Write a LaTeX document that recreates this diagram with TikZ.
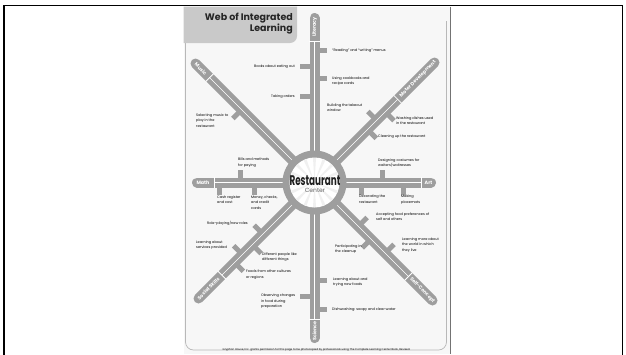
\documentclass[tikz,border=0pt]{standalone}
\usepackage{fontspec}
\setmainfont{Poppins}
\usetikzlibrary{calc}
\definecolor{bargray}{HTML}{9E9E9E}
\definecolor{titlegray}{HTML}{C9C9C9}
\definecolor{pagebg}{HTML}{F7F7F7}
\begin{document}
\begin{tikzpicture}[x=1pt,y=-1pt,
  bar/.style={line width=10pt, draw=bargray, line cap=round},
  stub/.style={line width=5pt, draw=bargray},
  cline/.style={line width=0.6pt, draw=white},
  sepline/.style={line width=0.8pt, draw=white},
  lab/.style={font=\fontsize{3.5}{5.4}\selectfont, inner sep=0pt, align=left, anchor=north west},
  labr/.style={lab, align=right, anchor=north east},
  tab/.style={font=\fontsize{4.8}{5}\selectfont\bfseries, text=white, inner sep=0pt},
]
\useasboundingbox (0,0) rectangle (626,354);
% page
\fill[pagebg] (183.5,6.5) rectangle (450.5,354);
\draw[black!55, line width=1pt] (450.5,6.5) -- (450.5,354);
\draw[black!28, line width=0.7pt, rounded corners=8pt] (185.5,43) -- (185.5,350) -- (446.5,350) -- (446.5,21);
\fill[titlegray] (183.5,6.5) -- (297,6.5) [rounded corners=7pt] -- (297,43) [sharp corners] -- (183.5,43) -- cycle;
\node[anchor=north east, align=right, font=\fontsize{9.5}{11.5}\selectfont\bfseries, text=black!85, inner sep=0pt] (title) at (293,12.5) {Web of Integrated\\Learning};
\draw[line width=1.6pt] (4,5.5) rectangle (622.5,362);

% coordinates
\coordinate (C) at (314.5,182.5);
\coordinate (eLit) at (314.5,18);
\coordinate (eSci) at (314.5,338);
\coordinate (eMath) at (197,182.5);
\coordinate (eArt) at (431,182.5);
\coordinate (eMus) at (195.5,63.5);
\coordinate (eMot) at (434.5,62.5);
\coordinate (eSoc) at (198.5,298.5);
\coordinate (eSelf) at (432.5,300.5);
\coordinate (sLit) at (314.5,41);
\coordinate (sSci) at (314.5,319);
\coordinate (sMath) at (214,182.5);
\coordinate (sArt) at (421,182.5);
\coordinate (sMus) at (209.6,77.6);
\coordinate (sMot) at (397.7,99.3);
\coordinate (sSoc) at (221.9,275.1);
\coordinate (sSelf) at (408.5,276.5);

% stubs
\draw[stub] (314.5,50) -- (327,50);
\draw[stub] (314.5,66) -- (300,66);
\draw[stub] (314.5,78) -- (327,78);
\draw[stub] (314.5,96) -- (300,96);
\draw[stub] (314.5,280) -- (327,280);
\draw[stub] (314.5,296) -- (300,296);
\draw[stub] (314.5,309) -- (327,309);
\draw[stub] (240,182.5) -- (240,170);
\draw[stub] (219,182.5) -- (219,195);
\draw[stub] (254,182.5) -- (254,195);
\draw[stub] (382,182.5) -- (382,170);
\draw[stub] (361,182.5) -- (361,195);
\draw[stub] (403,182.5) -- (403,195);
\draw[stub] (376.7,120.3) -- (367.9,111.5);
\draw[stub] (385.2,111.8) -- (394.0,120.6);
\draw[stub] (367.5,129.5) -- (376.3,138.3);
\draw[stub] (241.7,109.7) -- (232.9,118.5);
\draw[stub] (262.9,234.1) -- (254.1,225.3);
\draw[stub] (242.4,254.6) -- (233.6,245.8);
\draw[stub] (252.3,244.7) -- (261.1,253.5);
\draw[stub] (234.6,262.4) -- (243.4,271.2);
\draw[stub] (358.3,226.3) -- (367.1,217.5);
\draw[stub] (371.1,239.1) -- (362.3,247.9);
\draw[stub] (385.2,253.2) -- (394.0,244.4);

% bars
\foreach \e in {eLit,eSci,eMath,eArt,eMus,eMot,eSoc,eSelf} \draw[bar] (C) -- (\e);
\foreach \s in {sLit,sSci,sMath,sArt,sMus,sMot,sSoc,sSelf} \draw[cline] (\s) -- (C);
\draw[sepline] ($(sLit)+(-5.5,0)$) -- ($(sLit)+(5.5,0)$);
\draw[sepline] ($(sSci)+(-5.5,0)$) -- ($(sSci)+(5.5,0)$);
\draw[sepline] ($(sMath)+(0,-5.5)$) -- ($(sMath)+(0,5.5)$);
\draw[sepline] ($(sArt)+(0,-5.5)$) -- ($(sArt)+(0,5.5)$);
\draw[sepline] ($(sMus)+(3.9,-3.9)$) -- ($(sMus)+(-3.9,3.9)$);
\draw[sepline] ($(sMot)+(3.9,3.9)$) -- ($(sMot)+(-3.9,-3.9)$);
\draw[sepline] ($(sSoc)+(3.9,3.9)$) -- ($(sSoc)+(-3.9,-3.9)$);
\draw[sepline] ($(sSelf)+(3.9,-3.9)$) -- ($(sSelf)+(-3.9,3.9)$);

% ring
\fill[bargray] (C) circle[radius=32];
\fill[white] (C) circle[radius=25];
\foreach \a in {0,22.5,...,337.5} \fill[black!6] (C) -- +(\a-3.5:24.5) -- +(\a+3.5:24.5) -- cycle;
\node[inner sep=0pt, text=black!88] (rest) at (315,180.5) {\scalebox{0.63}[1]{\fontsize{14}{14}\selectfont\bfseries Restaurant}};
\node[inner sep=0pt, text=black!60, font=\fontsize{6}{6}\selectfont] (cent) at (315,190.5) {Center};

% tab labels
\node[tab, rotate=90] (lLit) at (314.5,27) {Literacy};
\node[tab, rotate=90] (lSci) at (314.5,331) {Science};
\node[tab] (lMath) at (203,182.5) {Math};
\node[tab] (lArt) at (428.5,182.5) {Art};
\node[tab, rotate=-45] (lMus) at (200.8,68.8) {Music};
\node[tab, rotate=45] (lMot) at (417.9,79.1) {Motor Development};
\node[tab, rotate=45] (lSoc) at (208.4,288.6) {Social Skills};
\node[tab, rotate=-45] (lSelf) at (422.3,290.3) {Self-Concept};

% texts
\node[lab] (t1) at (332,48.5) {“Reading” and “writing” menus};
\node[labr] (t2) at (295,64.5) {Books about eating out};
\node[lab] (t3) at (332,76.5) {Using cookbooks and\\recipe cards};
\node[labr] (t4) at (295,94.5) {Taking orders};
\node[lab] (t5) at (327,103.5) {Building the takeout\\window};
\node[lab] (t6) at (396,116.5) {Washing dishes used\\in the restaurant};
\node[lab] (t7) at (378,134.5) {Cleaning up the restaurant};
\node[lab] (t8) at (196,113.5) {Selecting music to\\play in the\\restaurant};
\node[lab] (t9) at (238,158) {Bills and methods\\for paying};
\node[lab] (t10) at (217,195.5) {Cash register\\and cost};
\node[lab] (t11) at (251,195.5) {Money, checks,\\and credit\\cards};
\node[lab] (t12) at (378,158.5) {Designing costumes for\\waiters/waitresses};
\node[lab] (t13) at (359,195) {Decorating the\\restaurant};
\node[lab] (t14) at (401,195) {Making\\placemats};
\node[labr] (t15) at (248,220.5) {Role-playing/new roles};
\node[lab] (t16) at (196,240.5) {Learning about\\services provided};
\node[lab] (t17) at (262,252.5) {Different people like\\different things};
\node[lab] (t18) at (246,270) {Foods from other cultures\\or regions};
\node[lab] (t19) at (376,212.5) {Accepting food preferences of\\self and others};
\node[lab] (t20) at (335,244.5) {Participating in\\the cleanup};
\node[lab] (t21) at (402,237.5) {Learning more about\\the world in which\\they live};
\node[lab] (t22) at (333,277.5) {Learning about and\\trying new foods};
\node[lab] (t23) at (261,294) {Observing changes\\in food during\\preparation};
\node[lab] (t24) at (332,307.5) {Dishwashing: soapy and clear water};
\node[inner sep=0pt, font=\fontsize{2.7}{3}\selectfont] (foot) at (316.5,350) {Gryphon House, Inc. grants permission for this page to be photocopied by professionals using The Complete Learning Center Book, Revised.};
\end{tikzpicture}
\end{document}
